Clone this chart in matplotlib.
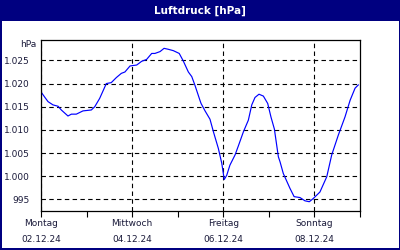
import matplotlib
matplotlib.use("Agg")
import matplotlib.pyplot as plt
from matplotlib.patches import Rectangle
from matplotlib.ticker import FixedLocator, MultipleLocator

# Data: hours since Monday 02.12.24 00:00, pressure in hPa
hours = [0, 1.9, 3.7, 6.3, 9.0, 10.7, 14.2, 16.0, 18.6, 22.1, 26.5, 28.3, 30.9, 34.4,
         37.0, 39.7, 42.3, 44.2, 46.9, 50.4, 53.0, 55.6, 58.3, 60.0, 62.7, 64.8, 67.0,
         69.7, 72.8, 74.9, 77.6, 79.4, 81.1, 83.7, 84.3, 86.4, 89.0, 90.8, 93.4, 95.2,
         96.5, 97.8, 99.5, 102.2, 103.9, 106.6, 109.2, 111.0, 112.7, 114.8, 117.1,
         119.4, 121.1, 122.9, 125.0, 125.9, 127.6, 131.1, 133.3, 136.4, 139.0, 141.3,
         143.4, 146.9, 150.5, 153.1, 156.6, 160.1, 162.8, 165.4, 167.1]
pressure = [1018.2, 1017.1, 1016.1, 1015.4, 1015.1, 1014.3, 1013.0, 1013.4, 1013.4, 1014.1,
            1014.3, 1015.0, 1016.8, 1020.0, 1020.2, 1021.3, 1022.2, 1022.5, 1023.8, 1024.0,
            1024.8, 1025.2, 1026.5, 1026.5, 1026.9, 1027.6, 1027.4, 1027.1, 1026.5, 1024.9,
            1022.5, 1021.5, 1019.6, 1016.4, 1015.7, 1014.1, 1012.3, 1009.6, 1006.0, 1002.8,
            999.3, 1000.2, 1002.4, 1004.6, 1006.5, 1009.6, 1012.1, 1015.4, 1017.0, 1017.7,
            1017.3, 1015.7, 1012.8, 1010.2, 1004.2, 1003.1, 1000.6, 997.4, 995.6, 995.4,
            994.7, 994.5, 995.2, 996.6, 999.9, 1004.6, 1008.9, 1012.8, 1016.4, 1019.0, 1019.7]

y_ticks = [995, 1000, 1005, 1010, 1015, 1020, 1025]
y_labels = ["995", "1.000", "1.005", "1.010", "1.015", "1.020", "1.025"]
x_ticks = [0, 48, 96, 144]
x_labels = ["Montag\n02.12.24", "Mittwoch\n04.12.24", "Freitag\n06.12.24", "Sonntag\n08.12.24"]

NAVY = "#000080"
TXT = "#1a1a3a"
W, H = 400, 250

fig = plt.figure(figsize=(4, 2.5), dpi=100, facecolor=NAVY)
# white inner panel
fig.patches.append(Rectangle((1.5 / W, 2.5 / H), 397 / W, (H - 21 - 2.5) / H,
                             transform=fig.transFigure, facecolor="white",
                             edgecolor="none", zorder=-5))
fig.text(0.5, 1 - 10.5 / H, "Luftdruck [hPa]", color="white", fontsize=7.5,
         fontweight="bold", ha="center", va="center")

ax = fig.add_axes([41 / W, (H - 211) / H, 319 / W, 171 / H])
ax.set_zorder(2)
ax.set_facecolor("white")
ax.plot(hours, pressure, color="#0000ff", linewidth=0.85)
ax.set_xlim(0, 168)
ax.set_ylim(992.5, 1029.4)

ax.yaxis.set_major_locator(FixedLocator(y_ticks))
ax.set_yticklabels(y_labels)
ax.xaxis.set_major_locator(FixedLocator(x_ticks))
ax.xaxis.set_minor_locator(MultipleLocator(24))
ax.set_xticklabels(x_labels, linespacing=2.0)

ax.tick_params(axis="y", length=0, pad=8, labelsize=6.5, labelcolor=TXT)
ax.tick_params(axis="x", which="both", direction="out", length=4, width=0.8,
               pad=1.6, labelsize=6.5, labelcolor=TXT, color="black")
ax.grid(True, which="major", color="black", linewidth=0.8, linestyle=(0, (4, 3)))
for s in ax.spines.values():
    s.set_color("black")
    s.set_linewidth(0.9)

fig.text(36 / W, 1 - 44.7 / H, "hPa", color=TXT, fontsize=6.5, ha="right", va="center")

fig.savefig("out.png", dpi=100, facecolor=NAVY)
